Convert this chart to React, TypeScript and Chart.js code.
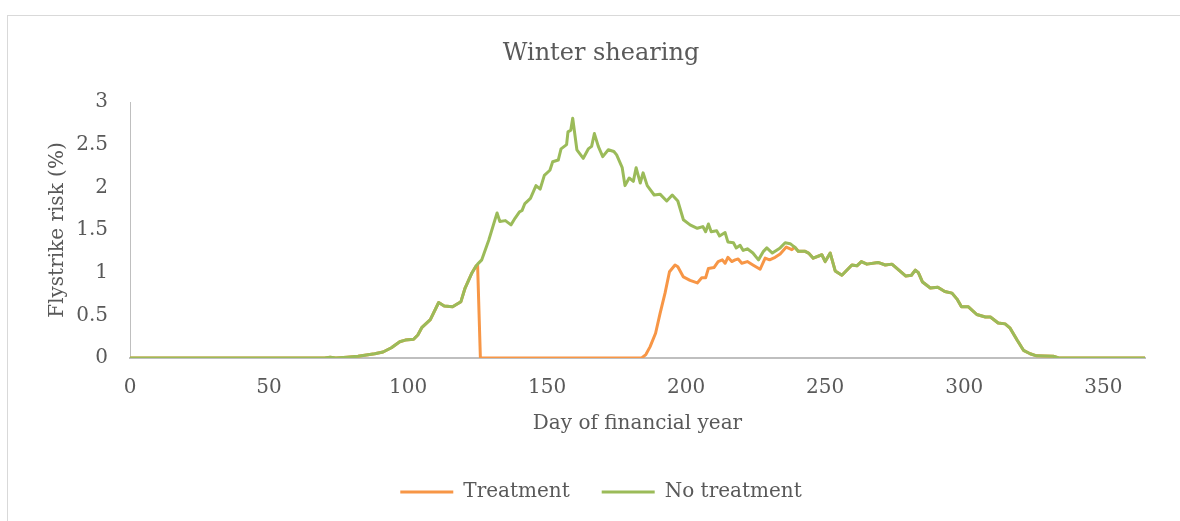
import React, { useEffect, useRef } from "react";
import { Chart, registerables } from "chart.js";

Chart.register(...registerables);

const chartTitle = "Winter shearing";
const xAxisTitle = "Day of financial year";
const yAxisTitle = "Flystrike risk (%)";
const seriesNames = ["Treatment", "No treatment"];
const xTickValues = [0, 50, 100, 150, 200, 250, 300, 350];
const yTickValues = [0, 0.5, 1, 1.5, 2, 2.5, 3];

// No treatment (green)
const noTreatmentDays = [
  0, 70, 72, 74, 78, 82, 85, 88, 91, 94, 97, 99, 102, 103.5, 105, 108, 111, 113, 116, 119,
  120.5, 123, 124.5, 125, 126.5, 129, 132, 133, 135, 137, 138.5, 140, 141, 142, 144, 146,
  147.5, 149, 151, 152, 154, 155, 157, 157.5, 158.5, 159.2, 160.7, 163, 164.8, 166, 167,
  168.4, 170, 172, 174, 175, 177, 178, 179.5, 181, 182, 183.5, 184.5, 186, 188.5, 190.6,
  193, 195, 197, 199, 201.4, 204, 206, 207, 208, 209, 211, 212, 214, 215, 217, 218, 219.4,
  220.5, 222, 224, 226, 227.8, 229, 231, 233.8, 235.6, 237.4, 239, 240.3, 242.8, 244,
  245.7, 248.8, 250, 251.8, 253.6, 256, 259.6, 261.4, 263, 265, 269, 271.6, 274, 276.5,
  279, 281, 282.4, 283.5, 285, 287.8, 290.5, 293, 295.6, 297.4, 299, 301.5, 304.5, 307.6,
  309.4, 312.2, 314.7, 316.5, 319, 321.3, 323.7, 326, 332, 334, 365,
];
const noTreatmentValues = [
  0, 0, 0.01, 0, 0.01, 0.02, 0.035, 0.05, 0.07, 0.12, 0.19, 0.21, 0.22, 0.27, 0.36, 0.45, 0.65, 0.61, 0.6, 0.66,
  0.82, 1.0, 1.08, 1.1, 1.15, 1.38, 1.7, 1.6, 1.61, 1.56, 1.64, 1.71, 1.73, 1.81, 1.87, 2.02,
  1.98, 2.14, 2.2, 2.3, 2.32, 2.45, 2.5, 2.65, 2.67, 2.81, 2.44, 2.34, 2.45, 2.48, 2.63,
  2.48, 2.36, 2.44, 2.42, 2.38, 2.23, 2.02, 2.11, 2.07, 2.23, 2.05, 2.17, 2.02, 1.91, 1.92,
  1.84, 1.91, 1.84, 1.62, 1.56, 1.52, 1.54, 1.48, 1.57, 1.48, 1.49, 1.43, 1.47, 1.36, 1.35, 1.29, 1.32,
  1.26, 1.28, 1.23, 1.15, 1.25, 1.29, 1.23, 1.29, 1.35, 1.34, 1.3, 1.25, 1.25, 1.23,
  1.17, 1.21, 1.13, 1.23, 1.02, 0.97, 1.09, 1.08, 1.13, 1.1, 1.12, 1.09, 1.1, 1.03,
  0.96, 0.97, 1.03, 1.0, 0.89, 0.82, 0.83, 0.78, 0.76, 0.69, 0.6, 0.6, 0.51, 0.48,
  0.48, 0.41, 0.4, 0.35, 0.21, 0.09, 0.05, 0.025, 0.02, 0, 0,
];

// Treatment (orange) — where it departs from the untreated curve
const treatmentDays = [
  125, 126, 184, 185.5, 187, 189, 190.6, 192.4, 194, 196, 197, 199, 201.4, 204, 205.6, 207,
  208, 210, 211.5, 213, 214, 215, 216.4, 217.6, 218.7, 220, 222, 224, 226.6, 228.4, 230,
  232, 233.8, 236, 238,
];
const treatmentValues = [
  1.09, 0, 0, 0.04, 0.13, 0.29, 0.52, 0.76, 1.01, 1.09, 1.07, 0.95, 0.91, 0.88, 0.94, 0.94,
  1.05, 1.06, 1.13, 1.15, 1.11, 1.18, 1.13, 1.15, 1.16, 1.11, 1.13, 1.09, 1.04, 1.17, 1.15,
  1.18, 1.22, 1.3, 1.27,
];
const treatmentStart = 125;
const treatmentEnd = 238;

const orange = "#F79646";
const green = "#9BBB59";
const textColor = "#595959";
const axisColor = "#BFBFBF";
const fontFamily = "'DejaVu Serif', serif";

export default function App() {
  const ref = useRef<HTMLCanvasElement | null>(null);

  useEffect(() => {
    if (!ref.current) return;
    const greenPts = noTreatmentDays.map((d, i) => ({ x: d, y: noTreatmentValues[i] }));
    const orangePts = [
      ...greenPts.filter((p) => p.x < treatmentStart),
      ...treatmentDays.map((d, i) => ({ x: d, y: treatmentValues[i] })),
      ...greenPts.filter((p) => p.x > treatmentEnd),
    ];

    const chart = new Chart(ref.current, {
      type: "line",
      data: {
        datasets: [
          {
            label: seriesNames[0],
            data: orangePts,
            borderColor: orange,
            backgroundColor: orange,
            borderWidth: 3,
            pointRadius: 0,
            tension: 0,
            fill: false,
            order: 1,
            borderJoinStyle: "round",
            borderCapStyle: "round",
            yAxisID: "y",
          },
          {
            label: seriesNames[1],
            data: greenPts,
            borderColor: green,
            backgroundColor: green,
            borderWidth: 3,
            pointRadius: 0,
            tension: 0,
            fill: false,
            order: 0,
            borderJoinStyle: "round",
            borderCapStyle: "round",
            yAxisID: "y",
          },
        ],
      },
      options: {
        responsive: false,
        animation: false,
        layout: { padding: { left: 22, right: 0, top: 0, bottom: 9 } },
        plugins: {
          title: {
            display: true,
            text: chartTitle,
            color: textColor,
            font: { family: fontFamily, size: 24, weight: "normal" },
            padding: { top: 39, bottom: 34.2 },
          },
          legend: {
            position: "bottom",
            labels: {
              color: textColor,
              font: { family: fontFamily, size: 20 },
              usePointStyle: true,
              pointStyle: "line",
              pointStyleWidth: 53,
              padding: 32,
              sort: (a: any, b: any) => a.datasetIndex - b.datasetIndex,
            },
          },
          tooltip: { enabled: false },
        },
        scales: {
          x: {
            type: "linear",
            min: 0,
            max: 365,
            afterFit: (s: any) => {
              s.height = 92;
            },
            afterBuildTicks: (s: any) => {
              s.ticks = xTickValues.map((v) => ({ value: v }));
            },
            ticks: {
              color: textColor,
              font: { family: fontFamily, size: 20 },
              padding: 18,
              maxRotation: 0,
              autoSkip: false,
              includeBounds: false,
              callback: (v: any) => String(v),
            },
            grid: { display: false, drawTicks: false },
            border: { display: true, color: axisColor, width: 2 },
            title: {
              display: true,
              text: xAxisTitle,
              color: textColor,
              font: { family: fontFamily, size: 20 },
              padding: { top: 0, bottom: 14 },
            },
          },
          y: {
            type: "linear",
            position: "left",
            min: 0,
            max: 3,
            afterFit: (s: any) => {
              s.width = 108;
            },
            afterBuildTicks: (s: any) => {
              s.ticks = yTickValues.map((v) => ({ value: v }));
            },
            ticks: {
              color: textColor,
              font: { family: fontFamily, size: 20 },
              padding: 22,
              autoSkip: false,
              callback: (v: any) => String(v),
            },
            grid: { display: false, drawTicks: false },
            border: { display: true, color: axisColor, width: 1 },
            title: {
              display: true,
              text: yAxisTitle,
              color: textColor,
              font: { family: fontFamily, size: 20 },
              padding: { top: 24, bottom: 0 },
            },
          },
          spacer: {
            type: "linear",
            position: "right",
            display: true,
            min: 0,
            max: 3,
            afterFit: (s: any) => {
              s.width = 35;
            },
            ticks: { display: false },
            grid: { display: false, drawTicks: false },
            border: { display: false },
            title: { display: false },
          },
        },
      },
    });
    return () => chart.destroy();
  }, []);

  return (
    <div style={{ position: "fixed", left: 0, top: 0, width: 1180, height: 521, background: "#fff", overflow: "hidden" }}>
      <div
        style={{
          position: "absolute",
          left: 7,
          top: 15,
          width: 1200,
          height: 600,
          border: "1px solid #D9D9D9",
          boxSizing: "border-box",
        }}
      />
      <canvas ref={ref} width={1180} height={521} style={{ position: "absolute", left: 0, top: 0, display: "block" }} />
    </div>
  );
}
